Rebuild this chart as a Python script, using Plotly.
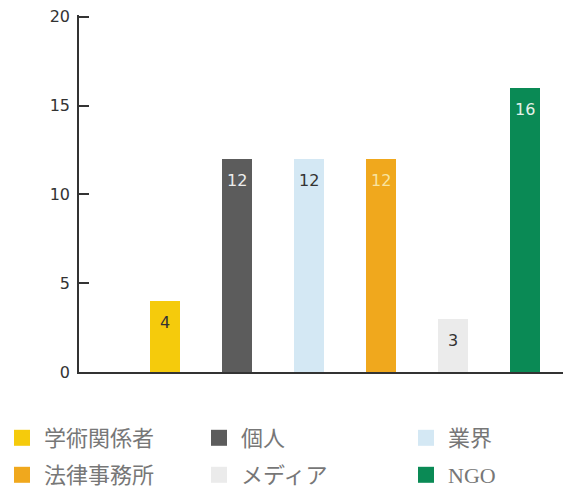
import plotly.graph_objects as go

categories = ["学術関係者", "個人", "業界", "法律事務所", "メディア", "NGO"]
values = [4, 12, 12, 12, 3, 16]
colors = ["#F5CB0C", "#5C5C5C", "#D4E8F4", "#F0A81D", "#EBEBEB", "#0A8A55"]
label_colors = ["#333333", "#EDEDED", "#333333", "#F8E4A0", "#333333", "#E4F2EA"]
y_ticks = [0, 5, 10, 15, 20]

W, H = 563, 487
ml, mr, mt = 79, 0, 15
mb = H - 372

# legend layout in window px: (legend left x, row centre y)
leg_cols = [0, 197, 404]
leg_rows = [438, 475]

fig = go.Figure()
legend_layouts = {}
for i, (cat, v, c) in enumerate(zip(categories, values, colors)):
    lname = "legend" if i == 0 else f"legend{i+1}"
    fig.add_trace(go.Bar(
        x=[i], y=[v], name=cat, marker=dict(color=c, line=dict(width=0)),
        width=0.42, showlegend=False, hoverinfo="skip",
    ))
    # legend entry with a larger square swatch
    fig.add_trace(go.Scatter(
        x=[None], y=[None], mode="markers", name=cat, legend=lname,
        marker=dict(symbol="square", size=16, color=c, line=dict(width=0)),
        showlegend=True, hoverinfo="skip",
    ))
    col, row = i % 3, i // 3
    legend_layouts[lname] = dict(
        xref="container", yref="container",
        x=leg_cols[col] / W, xanchor="left",
        y=1 - leg_rows[row] / H, yanchor="middle",
        orientation="h", bgcolor="rgba(0,0,0,0)", borderwidth=0,
        itemwidth=34, itemsizing="trace",
        font=dict(family="Liberation Serif, Noto Sans CJK JP", size=22, color="#777777"),
    )
    fig.add_annotation(x=i, y=v, yshift=-22, text=str(v), showarrow=False,
                       font=dict(family="DejaVu Sans", size=16, color=label_colors[i]))

fig.update_layout(
    width=W, height=H, margin=dict(l=ml, r=mr, t=mt, b=mb, autoexpand=False),
    paper_bgcolor="white", plot_bgcolor="white",
    bargap=0, showlegend=True,
    **legend_layouts,
)
fig.update_xaxes(range=[-1.19, 5.53], showticklabels=False, showgrid=False,
                 zeroline=False, showline=True, linecolor="#333333", linewidth=1.5,
                 ticks="", fixedrange=True, automargin=False)
fig.update_yaxes(range=[0, 20.1], tickvals=y_ticks, ticks="inside", ticklen=10,
                 tickcolor="#333333", tickwidth=1.5, showgrid=False, zeroline=False,
                 showline=True, linecolor="#333333", linewidth=1.5, ticklabelstandoff=4,
                 automargin=False,
                 tickfont=dict(family="DejaVu Sans", size=16, color="#333333"))

fig.write_html("out.html", config={"displayModeBar": False},
               post_script="document.body.style.margin='0px';")
